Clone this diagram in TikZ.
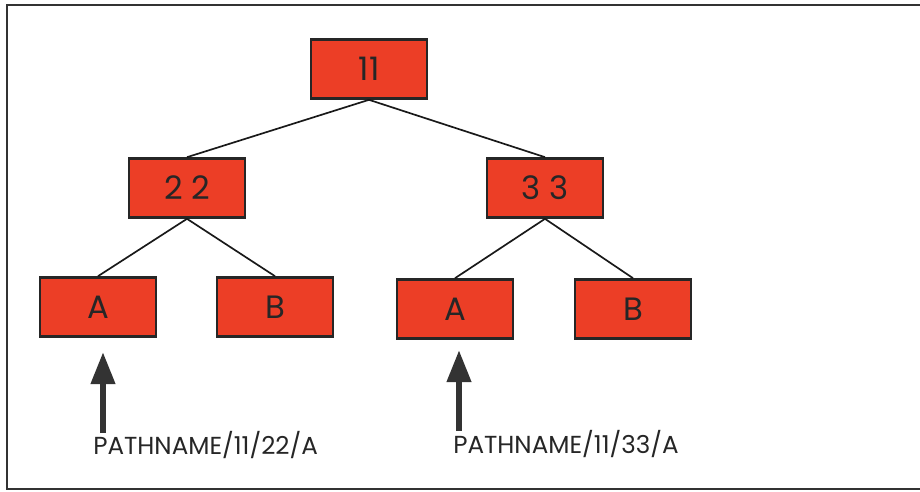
\documentclass[tikz,border=0pt]{standalone}
\usepackage{fontspec}
\setmainfont{Poppins}
\usetikzlibrary{arrows.meta}
\definecolor{boxred}{RGB}{236,62,38}
\tikzset{
  box/.style={draw=black!85, fill=boxred, line width=2pt, minimum width=2.9cm, minimum height=1.47cm, inner sep=0pt, text=black!85, font=\fontsize{23}{23}\selectfont},
  branch/.style={line width=1.2pt, draw=black!90},
  pointer/.style={line width=4.5pt, draw=black!80, -{Triangle[length=0.8cm,width=0.58cm]}},
  pathlabel/.style={anchor=west, inner sep=0pt, text=black!85, font=\fontsize{17.5}{17.5}\selectfont},
  frame/.style={line width=2pt, draw=black!80},
}
\begin{document}
\begin{tikzpicture}[x=0.025cm, y=-0.025cm]
\useasboundingbox (0,0) rectangle (920,492);
% frame
\draw[frame] (920,5) -- (7,5) -- (7,489) -- (920,489);
% boxes
\node[box] (root) at (369,69) {11};
\node[box] (left) at (187,188) {2 2};
\node[box] (right) at (545,188) {3 3};
\node[box] (leftA) at (98,307) {A};
\node[box] (leftB) at (275,307) {B};
\node[box] (rightA) at (455,309) {A};
\node[box] (rightB) at (633,309) {B};
% branches
\draw[branch] (root.south) -- (left.north);
\draw[branch] (root.south) -- (right.north);
\draw[branch] (left.south) -- (leftA.north);
\draw[branch] (left.south) -- (leftB.north);
\draw[branch] (right.south) -- (rightA.north);
\draw[branch] (right.south) -- (rightB.north);
% pointers
\coordinate (tailL) at (103,433);
\coordinate (tipL) at (103,352);
\coordinate (tailR) at (459,431);
\coordinate (tipR) at (459,350);
\draw[pointer] (tailL) -- (tipL);
\draw[pointer] (tailR) -- (tipR);
\node[pathlabel] (pathL) at (93,445) {PATHNAME/11/22/A};
\node[pathlabel] (pathR) at (453,444) {PATHNAME/11/33/A};
\end{tikzpicture}
\end{document}
